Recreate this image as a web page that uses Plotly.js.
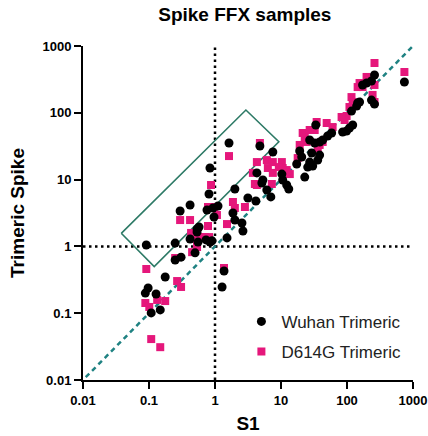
<!DOCTYPE html>
<html>
<head>
<meta charset="utf-8">
<script src="https://cdn.plot.ly/plotly-3.0.1.min.js"></script>
<style>html,body{margin:0;padding:0;background:#fff;}#chart{width:428px;height:436px;}</style>
</head>
<body>
<div id="chart"></div>
<script>
// ---- Data ----
var wuhanS1 = [0.091,0.097,0.088,0.128,0.108,0.148,0.176,0.249,0.249,0.306,0.296,0.419,0.419,0.535,0.499,0.553,0.731,0.839,0.757,0.966,1.52,1.37,1.28,1.87,2.0,2.56,2.65,1.11,1.63,4.79,0.839,0.811,2.0,3.15,4.16,4.31,5.31,6.10,5.13,7.01,7.52,10.3,10.6,12.2,13.1,17.3,19.2,20.6,22.9,25.4,27.2,27.2,29.2,32.4,33.6,38.5,36.0,42.8,50.9,58.5,38.5,85.9,98.6,109,122,117,140,145,155,172,198,235,261,235,261,741,0.535,0.573,0.902,30.2,0.933];
var wuhanSpike = [1.05,0.238,0.20,0.194,0.101,0.112,0.348,1.12,0.625,0.69,3.39,4.17,1.29,1.82,0.80,1.16,1.25,1.16,3.51,2.75,1.34,0.428,0.247,3.16,2.48,2.24,1.70,4.03,35.3,31.8,14.9,6.08,7.23,5.31,4.79,12.6,9.86,6.98,8.89,5.5,25.9,12.1,9.86,8.3,7.23,17.1,26.8,21.8,10.9,15.4,18.3,39.2,25,35.3,65.6,23.3,19.6,39.2,45,49.9,36.6,51.6,53.4,59.2,65.6,106,126,140,145,261,279,299,368,155,135,289,1.64,1.95,1.21,16,3.76];

var d614gS1 = [0.091,0.088,0.101,0.133,0.176,0.108,0.148,0.267,0.306,0.249,0.296,0.419,0.434,0.535,0.637,0.45,0.783,0.811,0.966,1.07,1.52,1.37,1.63,4.79,0.871,1.87,2.0,2.84,4.31,6.10,3.75,4.31,6.32,7.52,7.52,10.3,10.6,13.6,4.02,7.26,9.27,12.2,17.9,19.2,24.5,21.3,22.9,34.7,32.4,49.2,27.2,38.5,42.8,60.5,36.0,98.6,109,92,117,122,145,198,219,261,261,244,261,741,155,172,82.8,0.535,0.706,0.783];
var d614gSpike = [0.459,0.142,0.124,0.158,0.152,0.041,0.031,0.303,0.247,0.67,2.48,2.48,1.59,0.98,1.38,0.82,2.02,1.38,3.89,2.95,2.16,0.475,22.5,35.3,8.3,4.62,3.76,3.89,18.3,19.6,12.6,8.3,14.9,12.6,18.3,18.3,14.9,12.1,8.59,8.59,15.4,13.9,21,33,36.6,49.9,42,72.8,55.3,70.3,55.3,33,36.6,61.2,29.7,89.5,122,78,172,145,243,344,310,261,557,185,145,408,279,243,86.5,1.25,1.38,3.89];

// reference lines and gate (data coordinates)
var axisMin = 0.01, axisMax = 1000;
var thresholdX = 1, thresholdY = 1;
var gateS1 = [0.038, 2.94, 9.27, 0.12, 0.038];
var gateSpike = [1.57, 110, 36.9, 0.497, 1.57];

var tickVals = [0.01, 0.1, 1, 10, 100, 1000];
var tickText = ["0.01", "0.1", "1", "10", "100", "1000"];

var seriesNames = ["Wuhan Trimeric", "D614G Trimeric"];
var colors = {wuhan: "#000000", d614g: "#e5177b", diag: "#1f8282", gate: "#2d7a66"};
var fam = "Liberation Sans, Arial, sans-serif";

var traces = [
  {x: [axisMin, axisMax], y: [thresholdY, thresholdY], mode: "lines", showlegend: false, hoverinfo: "skip",
   line: {color: "#000", width: 2.5, dash: "2.5px,3.5px"}},
  {x: [thresholdX, thresholdX], y: [axisMin, axisMax], mode: "lines", showlegend: false, hoverinfo: "skip",
   line: {color: "#000", width: 2.5, dash: "2.5px,3.5px"}},
  {x: [axisMin * 1.1, axisMax], y: [axisMin * 1.1, axisMax], mode: "lines", showlegend: false, hoverinfo: "skip",
   line: {color: colors.diag, width: 2.5, dash: "5px,4px"}},
  {x: gateS1, y: gateSpike, mode: "lines", showlegend: false, hoverinfo: "skip",
   line: {color: colors.gate, width: 1.6}},
  {x: d614gS1, y: d614gSpike, mode: "markers", name: seriesNames[1], legendgroup: "b", legendrank: 2,
   marker: {symbol: "square", size: 8, color: colors.d614g}},
  {x: wuhanS1, y: wuhanSpike, mode: "markers", name: seriesNames[0], legendgroup: "a", legendrank: 1,
   marker: {symbol: "circle", size: 9, color: colors.wuhan}}
];

var axisCommon = {
  type: "log", showgrid: false, zeroline: false, showline: true, linecolor: "#000", linewidth: 2,
  ticks: "outside", ticklen: 7, tickwidth: 2, tickcolor: "#000",
  tickmode: "array", tickvals: tickVals, ticktext: tickText, ticklabeloverflow: "allow"
};

var layout = {
  width: 428, height: 436,
  margin: {l: 83, r: 15, t: 46, b: 56},
  paper_bgcolor: "#fff", plot_bgcolor: "#fff",
  title: {text: "<b>Spike FFX samples</b>", x: 0.572, xanchor: "center", y: 0.967, yanchor: "middle",
          font: {family: fam, size: 19, color: "#000"}},
  xaxis: Object.assign({}, axisCommon, {range: [-2, 3],
    tickfont: {family: fam, size: 13, color: "#000", weight: "bold"},
    title: {text: "<b>S1</b>", standoff: 10, font: {family: fam, size: 19, color: "#000"}}}),
  yaxis: Object.assign({}, axisCommon, {range: [-2, 3],
    tickfont: {family: fam, size: 13, color: "#000", weight: "bold"},
    title: {text: "<b>Trimeric Spike</b>", standoff: 13, font: {family: fam, size: 19, color: "#000"}}}),
  showlegend: true,
  legend: {x: 0.48, xanchor: "left", y: 0.228, yanchor: "top", bgcolor: "rgba(0,0,0,0)",
           traceorder: "grouped", tracegroupgap: 5,
           font: {family: fam, size: 17, color: "#222"}}
};

Plotly.newPlot("chart", traces, layout, {displayModeBar: false, staticPlot: true});
</script>
</body>
</html>
